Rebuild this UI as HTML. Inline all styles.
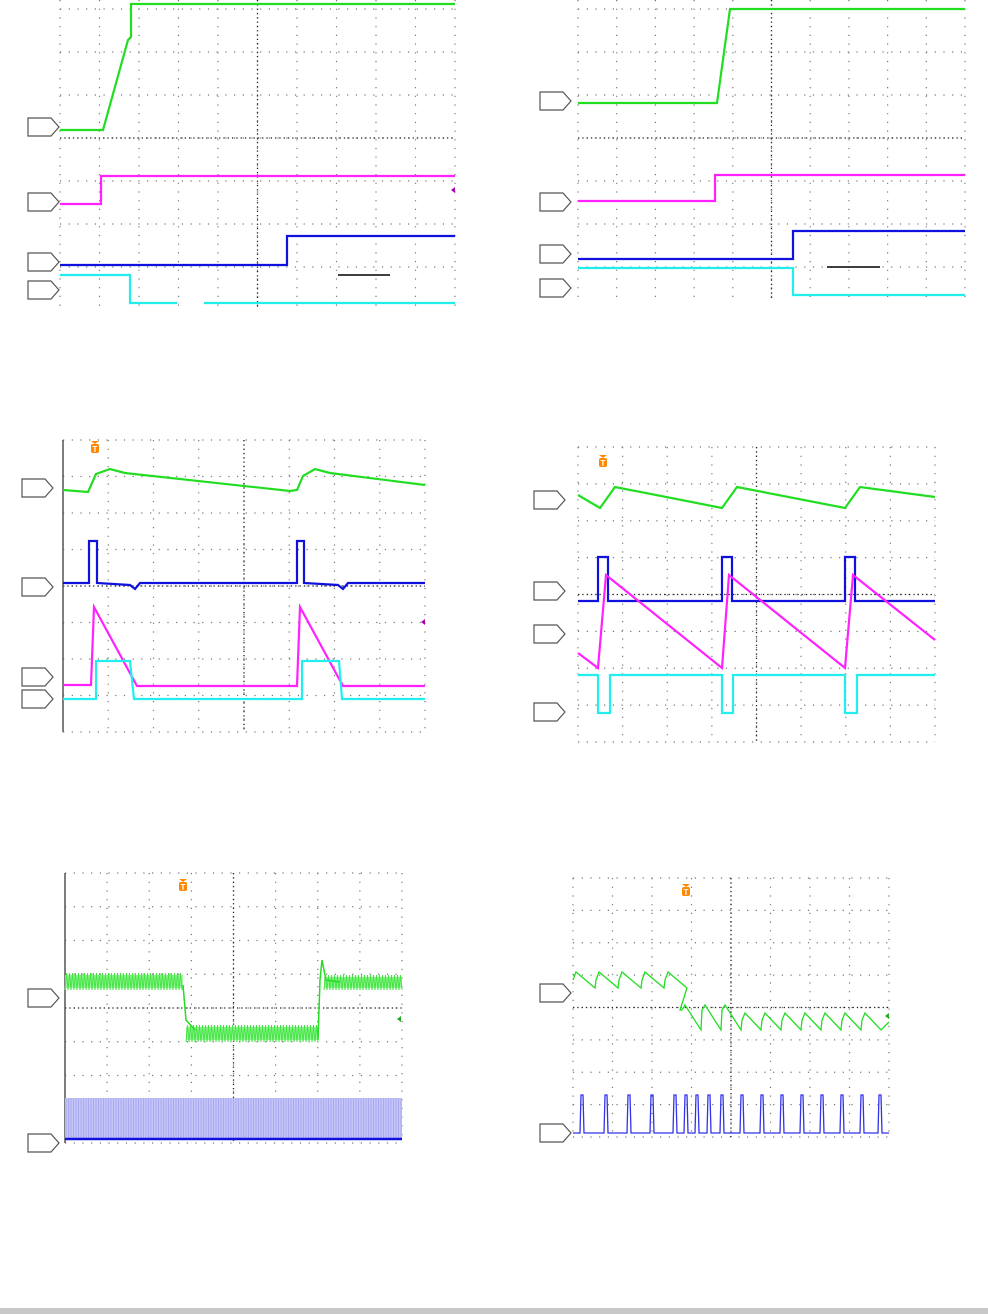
<!DOCTYPE html>
<html><head><meta charset="utf-8"><style>body{margin:0;background:#fff}svg{display:block}</style></head>
<body>
<svg id="s" width="988" height="1314" xmlns="http://www.w3.org/2000/svg" font-family="Liberation Sans, sans-serif">
<rect x="0" y="1308" width="988" height="6" fill="#c8c8c8"/>
</svg>
<script>
const S=document.getElementById('s');const NS='http://www.w3.org/2000/svg';
function el(t,a){const e=document.createElementNS(NS,t);for(const k in a)e.setAttribute(k,a[k]);S.appendChild(e);return e;}
function grid(x0,y0,x1,y1,nx,ny,axis,yc,ytop,ybot){
 const dx=(x1-x0)/nx,dy=(y1-y0)/ny;
 ytop=ytop===undefined?y0:ytop;ybot=ybot===undefined?y1:ybot;
 for(let i=0;i<=nx;i++){const x=x0+i*dx;el('line',{x1:x,y1:ytop,x2:x,y2:ybot,stroke:'#777','stroke-width':1.2,'stroke-dasharray':'1.2 7.5'});}
 for(let j=0;j<=ny;j++){const y=y0+j*dy;if(y<ytop-1||y>ybot+1)continue;el('line',{x1:x0,y1:y,x2:x1,y2:y,stroke:'#777','stroke-width':1.2,'stroke-dasharray':'1.2 7.5'});}
 const cx=x0+nx/2*dx,cy=yc!==undefined?yc:y0+ny/2*dy;
 el('line',{x1:cx,y1:ytop,x2:cx,y2:ybot,stroke:'#222','stroke-width':1.3,'stroke-dasharray':'1.3 3'});
 el('line',{x1:x0,y1:cy,x2:x1,y2:cy,stroke:'#222','stroke-width':1.3,'stroke-dasharray':'1.3 3'});
 if(axis)el('line',{x1:x0,y1:ytop,x2:x0,y2:ybot,stroke:'#555','stroke-width':1.5});
}
function mk(x,y){el('path',{d:`M${x} ${y-9}h23l8 9l-8 9h-23z`,fill:'#fff',stroke:'#555','stroke-width':1.2});}
function pl(pts,c,w){el('polyline',{points:pts.map(p=>p.join(',')).join(' '),fill:'none',stroke:c,'stroke-width':w||2.2});}
function T(x,y){el('path',{d:`M${x-4} ${y-4}h8l-4 3z`,fill:'#f80'});el('rect',{x:x-4,y:y-1,width:8,height:9,rx:2,fill:'#f80'});el('text',{x:x,y:y+7,'font-size':8,fill:'#fff','text-anchor':'middle','font-weight':'bold'}).textContent='T';}
const G='#22dd22',M='#ff22ff',B='#1111dd',C='#22eeee';
// P1
grid(60,-34,455,310,10,8,false,138,0,308);
pl([[60,130],[103,130],[128,40],[131,37],[131,4],[455,4]],G);
pl([[60,204],[101,204],[101,176],[455,176]],M);
pl([[60,265],[287,265],[287,236],[455,236]],B);
pl([[60,275],[130,275],[130,303],[177,303]],C);pl([[204,303],[455,303]],C);
el('line',{x1:338,y1:275,x2:390,y2:275,stroke:'#000','stroke-width':1.5});
el('path',{d:'M451 190l4 -3v6z',fill:'#a0a'});
mk(28,127);mk(28,202);mk(28,262);mk(28,290);
// P2
grid(578,-34,965,310,10,8,false,138,0,298);
pl([[578,103],[717,103],[730,9],[965,9]],G);
pl([[578,201],[715,201],[715,175],[965,175]],M);
pl([[578,259],[793,259],[793,231],[965,231]],B);
pl([[578,268],[793,268],[793,295],[965,295]],C);
el('line',{x1:827,y1:267,x2:880,y2:267,stroke:'#000','stroke-width':1.5});
mk(540,101);mk(540,202);mk(540,254);mk(540,288);
// P3
grid(63,440,425,732,8,8,true);
pl([[63,490],[88,492],[96,474],[110,469],[125,473],[290,491],[297,490],[303,476],[315,469],[330,473],[425,485]],G);
pl([[63,583],[89,583],[89,541],[97,541],[97,583],[130,585],[135,589],[140,583],[297,583],[297,541],[304,541],[304,583],[338,585],[343,589],[348,583],[425,583]],B);
pl([[63,685],[91,685],[94,607],[137,686],[297,686],[300,607],[343,686],[425,686]],M);
pl([[63,699],[96,699],[96,661],[130,661],[134,699],[302,699],[302,661],[339,661],[342,699],[425,699]],C);
el('path',{d:'M421 622l4 -3v6z',fill:'#a0a'});
T(95,445);mk(22,488);mk(22,587);mk(22,677);mk(22,699);
// P4
grid(578,447,935,742,8,8);
pl([[578,495],[600,508],[615,487],[722,508],[737,487],[845,508],[860,487],[935,497]],G);
pl([[578,601],[598,601],[598,557],[608,557],[608,601],[722,601],[722,557],[732,557],[732,601],[845,601],[845,557],[855,557],[855,601],[935,601]],B);
pl([[578,653],[598,668],[606,575],[722,668],[729,575],[845,668],[853,575],[935,640]],M);
pl([[578,675],[598,675],[598,713],[610,713],[610,675],[722,675],[722,713],[733,713],[733,675],[845,675],[845,713],[857,713],[857,675],[935,675]],C);
T(603,459);mk(534,500);mk(534,591);mk(534,634);mk(534,712);
// P5
grid(65,873,402,1143,8,8,true);
function band(x0,x1,yt,yb){el('rect',{x:x0,y:yt+2,width:x1-x0,height:yb-yt-4,fill:'#9cf59c'});let p=[];let t=0;for(let x=x0;x<=x1;x+=1.5){p.push([x,t?yt:yb]);t^=1;}pl(p,'#44e444',1);}
band(65,183,973,990);band(186,318,1025,1042);band(324,402,975,990);
pl([[183,985],[186,1020],[195,1030]],G,1.5);
pl([[318,1040],[320,980],[322,960],[326,980],[340,982]],G,1.5);
el('rect',{x:65,y:1098,width:337,height:42,fill:'#c4c4f6'});
for(let x=66;x<402;x+=2.5)el('line',{x1:x,y1:1098,x2:x,y2:1140,stroke:'#9999ee','stroke-width':0.6});
pl([[65,1139],[402,1139]],B,2.5);
el('path',{d:'M397 1019l4 -3v6z',fill:'#2a2'});
T(183,883);mk(28,998);mk(28,1143);
// P6
grid(573,878,889,1137,8,8);
let g=[],x=573;
while(x<670){g.push([x,980]);g.push([x+3,972]);g.push([x+22,988]);x+=23;}
g.push([680,1010]);x=682;
while(x<875){g.push([x,1010+(x>735?10:0)]);g.push([x+3,1005+(x>735?8:0)]);g.push([x+19,1030]);x+=20;}
g.push([889,1022]);
pl(g,G,1.3);
let b=[[573,1133]];
[580,604,627,650,673,684,695,707,720,740,760,780,800,820,840,860,878].forEach(p=>{b.push([p,1133],[p+1,1095],[p+3,1095],[p+4,1133]);});
b.push([889,1133]);pl(b,'#3333ee',1.3);
el('path',{d:'M885 1016l4 -3v6z',fill:'#2a2'});
T(686,888);mk(540,993);mk(540,1133);
</script>
</body></html>
